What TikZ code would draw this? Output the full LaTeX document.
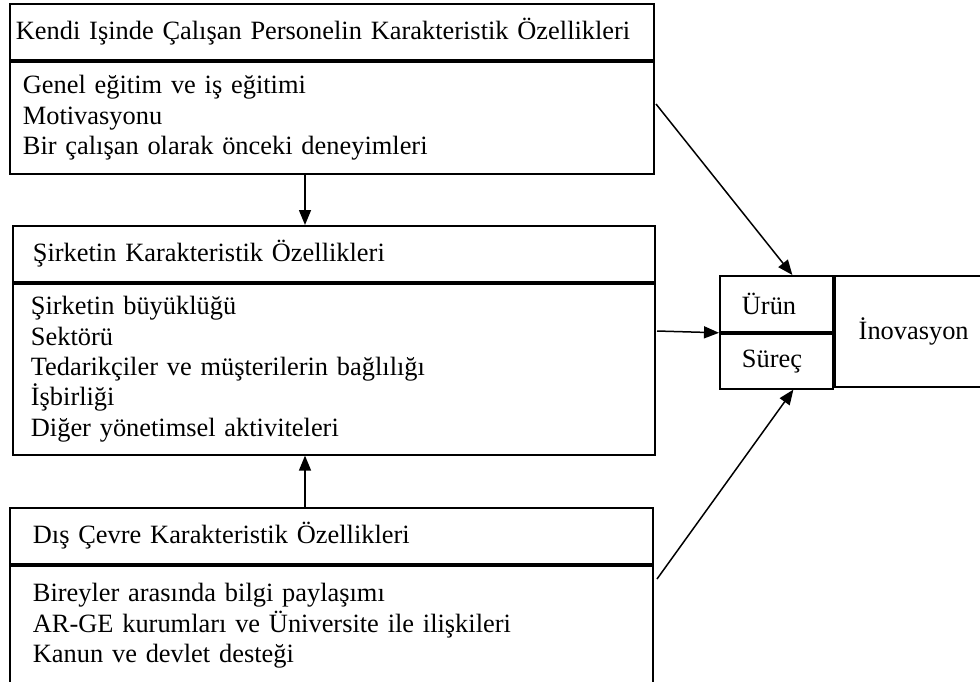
\documentclass[tikz,border=0pt]{standalone}
\usepackage{fontspec}
\setmainfont{Liberation Serif}
\usepackage{tikz}
\usetikzlibrary{arrows.meta}

\tikzset{
  kutu/.style={draw, line width=1.8pt, rectangle, anchor=north west, inner ysep=0pt,
    align=left, font=\fontsize{26.4}{30.4}\selectfont},
  ok/.style={-{Triangle[length=15pt,width=12pt]}, line width=1.5pt},
}

\begin{document}
\begin{tikzpicture}[x=1pt,y=-1pt]
			\useasboundingbox (0,0) rectangle (980,681);
			
			% Personnel box (header and list)
			\node[kutu, inner xsep=6pt, text width=632pt, minimum height=56pt] (kendiH) at (9,3) {Kendi Işinde Çalışan Personelin Karakteristik Özellikleri};
			\node[kutu, inner xsep=13pt, text width=618pt, minimum height=112pt] (kendiB) at (kendiH.south west) {Genel eğitim ve iş eğitimi\\Motivasyonu\\Bir çalışan olarak önceki deneyimleri};
			
			% Company box
			\node[kutu, inner xsep=20pt, text width=602pt, minimum height=56pt] (sirketH) at (12,225) {Şirketin Karakteristik Özellikleri};
			\node[kutu, inner xsep=18pt, text width=606pt, minimum height=171pt] (sirketB) at (sirketH.south west) {Şirketin büyüklüğü\\Sektörü\\Tedarikçiler ve müşterilerin bağlılığı\\İşbirliği\\Diğer yönetimsel aktiviteleri};
			
			% Environment box (cut at the bottom)
			\node[kutu, inner xsep=23pt, text width=597pt, minimum height=56pt] (cevreH) at (9,507) {Dış Çevre Karakteristik Özellikleri};
			\node[kutu, inner xsep=23pt, text width=597pt, minimum height=120pt] (cevreB) at (cevreH.south west) {Bireyler arasında bilgi paylaşımı\\AR-GE kurumları ve Üniversite ile ilişkileri\\Kanun ve devlet desteği};
			
			% Innovation boxes
			\node[kutu, inner xsep=22pt, text width=69pt, minimum height=56pt] (urun) at (719,275) {Ürün};
			\node[kutu, inner xsep=22pt, text width=69pt, minimum height=55pt] (surec) at (urun.south west) {Süreç};
			\node[kutu, inner xsep=24pt, minimum height=111pt] (inov) at (urun.north east) {İnovasyon};
			
			% Arrows
			\coordinate (orta) at (305,0);
			\coordinate (u1) at (656,104);
			\coordinate (u2) at (657,331);
			\coordinate (u3) at (657,579);
			\draw[ok] (kendiB.south -| orta) -- (sirketH.north -| orta);
			\draw[ok] (cevreH.north -| orta) -- (sirketB.south -| orta);
			\draw[ok] (u1) -- ([xshift=16pt]urun.north);
			\draw[ok] (u2) -- (urun.south west);
			\draw[ok] (u3) -- ([xshift=17pt]surec.south);
			
		\end{tikzpicture}
\end{document}
